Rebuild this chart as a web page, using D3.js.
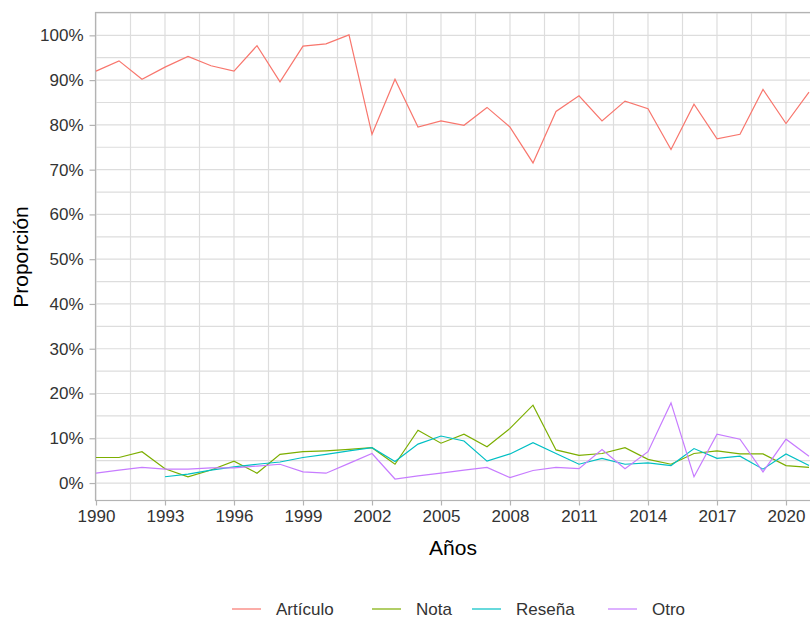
<!DOCTYPE html>
<html>
<head>
<meta charset="utf-8">
<script src="https://cdn.jsdelivr.net/npm/d3@7"></script>
<style>
  body { margin: 0; background: #fff; }
  text { font-family: "Liberation Sans", Arial, sans-serif; }
</style>
</head>
<body>
<div id="chart"></div>
<script>
var years = d3.range(1990, 2022);
var seriesNames = ["Artículo", "Nota", "Reseña", "Otro"];
var colors = ["#F8766D", "#7CAE00", "#00BFC4", "#C77CFF"];

// proportions in %, one value per year (null = no data)
var articulo = [92.0, 94.3, 90.2, 92.9, 95.3, 93.2, 92.0, 97.7, 89.6, 97.6, 98.1, 100.1,
  77.9, 90.2, 79.5, 80.9, 79.9, 83.9, 79.5, 71.5, 83.0, 86.5, 80.9, 85.3, 83.6, 74.5,
  84.6, 76.9, 77.9, 87.9, 80.3, 87.3];
var nota = [5.7, 5.7, 7.0, 3.2, 1.4, 2.9, 4.9, 2.2, 6.4, 7.0, 7.2, 7.5, 7.9, 4.2, 11.8,
  8.9, 10.9, 8.1, 12.2, 17.4, 7.4, 6.2, 6.6, 7.9, 5.3, 4.2, 6.6, 7.2, 6.5, 6.5, 3.9, 3.5];
var resena = [null, null, null, 1.4, 2.0, 2.9, 3.6, 4.2, 4.7, 5.7, 6.4, 7.2, 7.9, 4.8, 8.7,
  10.5, 9.4, 4.9, 6.5, 9.0, 6.6, 4.2, 5.5, 4.2, 4.5, 3.9, 7.7, 5.5, 6.0, 3.1, 6.5, 3.9];
var otro = [2.2, 2.9, 3.5, 3.1, 3.1, 3.4, 3.4, 3.8, 4.2, 2.5, 2.2, 4.4, 6.6, 0.9, 1.6, 2.2,
  2.9, 3.5, 1.2, 2.8, 3.5, 3.2, 7.5, 3.2, 7.0, 17.9, 1.4, 10.9, 9.8, 2.5, 9.8, 6.0];

var xTicks = d3.range(1990, 2022, 3);
var yTicks = d3.range(0, 101, 10);

var W = 810, H = 618;
var pLeft = 95.5, pTop = 12.5, pRight = 835, pBottom = 500.5;

var svg = d3.select("#chart").append("svg")
  .attr("width", W).attr("height", H);

var x = d3.scaleLinear().domain([1990, 2022]).range([96, 96 + 23 * 32]);
var y = d3.scaleLinear().domain([-3.9, 105.1]).range([pBottom, pTop]);

// grid (major + minor, same look)
var grid = svg.append("g");
d3.range(1990, 2023, 1.5).forEach(function(v) {
  grid.append("line").attr("x1", x(v)).attr("x2", x(v)).attr("y1", pTop).attr("y2", pBottom)
    .attr("stroke", "#dddddd").attr("stroke-width", 1.2);
});
d3.range(0, 106, 5).forEach(function(v) {
  grid.append("line").attr("x1", pLeft).attr("x2", pRight).attr("y1", y(v)).attr("y2", y(v))
    .attr("stroke", "#dddddd").attr("stroke-width", 1.2);
});

// panel border
svg.append("rect").attr("x", pLeft).attr("y", pTop)
  .attr("width", pRight - pLeft).attr("height", pBottom - pTop)
  .attr("fill", "none").attr("stroke", "#b3b3b3").attr("stroke-width", 1.2);

// lines
var allSeries = [articulo, nota, resena, otro];
var line = d3.line()
  .defined(function(d) { return d[1] != null; })
  .x(function(d) { return x(d[0]); })
  .y(function(d) { return y(d[1]); });

allSeries.forEach(function(s, i) {
  svg.append("path")
    .datum(years.map(function(yr, j) { return [yr, s[j]]; }))
    .attr("d", line)
    .attr("fill", "none")
    .attr("stroke", colors[i])
    .attr("stroke-width", 1.2);
});

// axes
var xAxis = svg.append("g").attr("transform", "translate(0," + pBottom + ")")
  .call(d3.axisBottom(x).tickValues(xTicks).tickFormat(d3.format("d")).tickSize(5).tickPadding(4));
var yAxis = svg.append("g").attr("transform", "translate(" + pLeft + ",0)")
  .call(d3.axisLeft(y).tickValues(yTicks).tickFormat(function(d) { return d + "%"; }).tickSize(6).tickPadding(6));
[xAxis, yAxis].forEach(function(a) {
  a.select(".domain").remove();
  a.selectAll(".tick line").attr("stroke", "#b3b3b3").attr("stroke-width", 1.2);
  a.selectAll(".tick text").attr("fill", "#333333").style("font-size", "17px");
});

// axis titles
svg.append("text").attr("x", 453).attr("y", 555)
  .attr("text-anchor", "middle").style("font-size", "21px").attr("fill", "#000").text("Años");
svg.append("text").attr("transform", "translate(28,257) rotate(-90)")
  .attr("text-anchor", "middle").style("font-size", "21px").attr("fill", "#000").text("Proporción");

// legend
var legendX = [232, 372, 472, 608];
var legend = svg.append("g");
seriesNames.forEach(function(n, i) {
  legend.append("line").attr("x1", legendX[i]).attr("x2", legendX[i] + 29)
    .attr("y1", 609).attr("y2", 609).attr("stroke", colors[i]).attr("stroke-width", 1.2);
  legend.append("text").attr("x", legendX[i] + 44).attr("y", 615)
    .style("font-size", "17px").attr("fill", "#333333").text(n);
});
</script>
</body>
</html>
